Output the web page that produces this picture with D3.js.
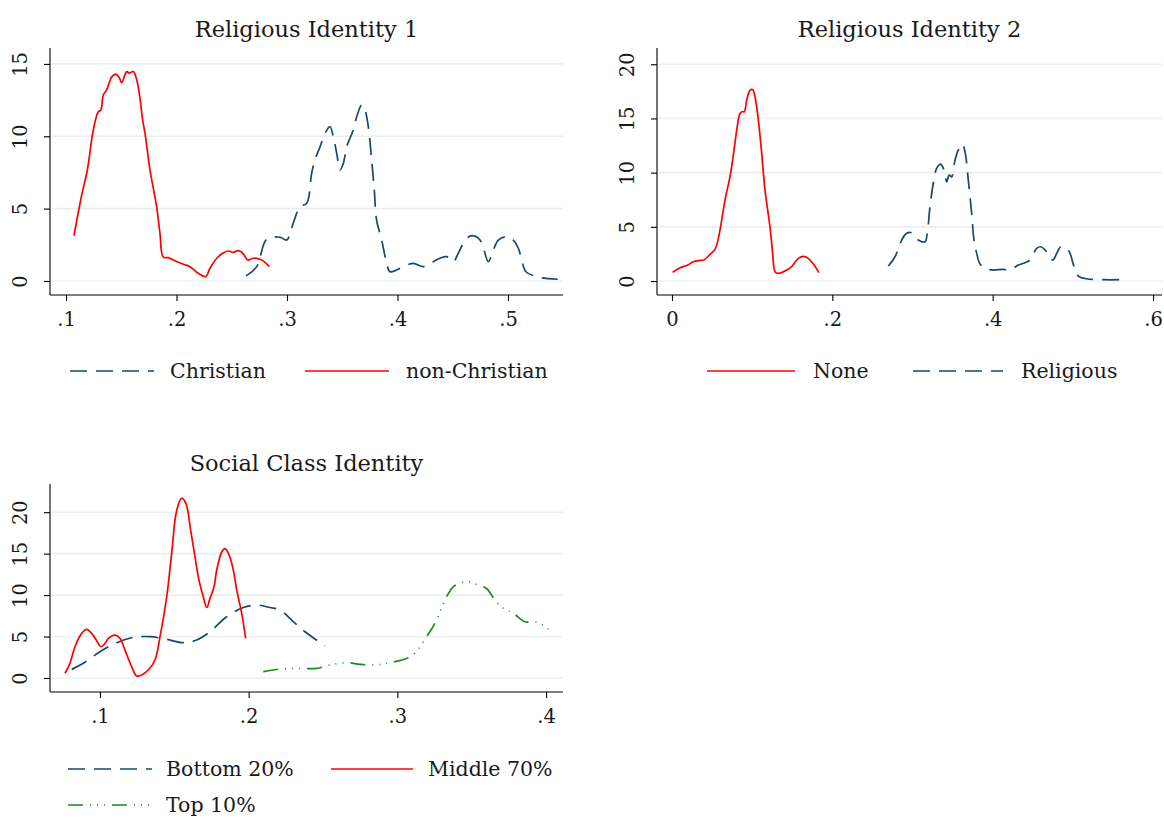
<!DOCTYPE html>
<html>
<head>
<meta charset="utf-8">
<script src="https://cdn.jsdelivr.net/npm/d3@7"></script>
<style>
  html, body { margin: 0; padding: 0; background: #fff; }
  svg { display: block; font-family: "DejaVu Serif", "Liberation Serif", serif; }
</style>
</head>
<body>
<svg id="chart" width="1164" height="819"></svg>
<script>
// Kernel density estimates of identity scores, by group

// Religious Identity 1
const christianX = [0.2629, 0.2726, 0.2816, 0.2937, 0.2997, 0.3057, 0.3118, 0.3178, 0.3223, 0.3253, 0.3299, 0.3344, 0.3389, 0.3419, 0.345, 0.348, 0.351, 0.354, 0.357, 0.36, 0.3631, 0.3676, 0.3706, 0.3736, 0.3766, 0.379, 0.3811, 0.3857, 0.3902, 0.3932, 0.3993, 0.4053, 0.4143, 0.4234, 0.4324, 0.4385, 0.4445, 0.4505, 0.455, 0.4596, 0.4656, 0.4701, 0.4747, 0.4783, 0.4822, 0.4867, 0.4913, 0.4988, 0.5048, 0.5094, 0.5124, 0.5163, 0.526, 0.5365, 0.545];
const christianY = [0.35, 0.99, 2.88, 3.02, 2.83, 4.0, 5.13, 5.37, 7.44, 8.36, 9.28, 10.2, 10.66, 9.97, 8.82, 7.67, 8.13, 9.28, 9.86, 10.43, 11.35, 12.16, 11.8, 10.66, 8.36, 6.29, 4.2, 2.83, 1.22, 0.64, 0.76, 0.99, 1.22, 0.99, 1.33, 1.57, 1.68, 1.33, 1.91, 2.6, 3.1, 3.1, 2.83, 2.14, 1.33, 2.14, 2.83, 3.06, 2.83, 2.26, 1.45, 0.64, 0.3, 0.16, 0.12];
const nonChristianX = [0.1072, 0.1142, 0.1193, 0.1247, 0.1292, 0.1314, 0.1338, 0.1368, 0.1413, 0.1449, 0.148, 0.1504, 0.1549, 0.1573, 0.1609, 0.164, 0.167, 0.1694, 0.1715, 0.176, 0.182, 0.185, 0.188, 0.1926, 0.197, 0.2062, 0.2122, 0.2197, 0.2264, 0.2303, 0.2364, 0.2418, 0.2469, 0.2514, 0.255, 0.2581, 0.2611, 0.2644, 0.2695, 0.2756, 0.2801, 0.284];
const nonChristianY = [3.13, 5.94, 7.67, 10.43, 11.7, 11.8, 12.85, 13.2, 14.1, 14.3, 14.08, 13.7, 14.47, 14.37, 14.47, 13.9, 12.6, 11.1, 10.2, 7.67, 5.13, 3.3, 1.64, 1.61, 1.45, 1.15, 0.99, 0.53, 0.3, 0.88, 1.57, 1.91, 2.07, 1.98, 2.1, 2.03, 1.8, 1.45, 1.57, 1.5, 1.29, 0.99];

// Religious Identity 2
const noneX = [0.0008, 0.01, 0.0191, 0.0266, 0.0349, 0.0399, 0.0474, 0.0536, 0.0578, 0.062, 0.0661, 0.0723, 0.0765, 0.0807, 0.0848, 0.0882, 0.0902, 0.0932, 0.0973, 0.1006, 0.1035, 0.1077, 0.1119, 0.116, 0.1222, 0.1256, 0.1285, 0.1326, 0.1431, 0.1493, 0.1576, 0.1638, 0.17, 0.1763, 0.1834];
const noneY = [0.8, 1.23, 1.45, 1.78, 1.9, 1.94, 2.46, 2.92, 3.93, 5.62, 7.47, 9.61, 11.6, 13.9, 15.45, 15.64, 15.6, 16.7, 17.6, 17.67, 17.0, 14.84, 11.77, 8.39, 5.0, 2.55, 0.86, 0.71, 1.01, 1.32, 2.09, 2.27, 2.09, 1.57, 0.77];
const religiousX = [0.2698, 0.2782, 0.2865, 0.2927, 0.299, 0.3072, 0.3156, 0.3184, 0.3218, 0.3259, 0.3301, 0.3351, 0.3393, 0.3426, 0.3458, 0.3488, 0.353, 0.3571, 0.3621, 0.3655, 0.3696, 0.3738, 0.3767, 0.3801, 0.3842, 0.3904, 0.4008, 0.4133, 0.4216, 0.432, 0.4403, 0.4466, 0.4549, 0.4599, 0.4674, 0.4749, 0.4799, 0.4849, 0.4924, 0.4965, 0.5015, 0.5068, 0.5173, 0.538, 0.558];
const religiousY = [1.38, 2.24, 3.78, 4.4, 4.45, 3.78, 3.62, 4.4, 6.85, 9.0, 10.39, 10.78, 10.23, 9.15, 9.77, 9.61, 11.15, 12.07, 12.63, 11.92, 9.31, 6.24, 3.78, 2.55, 1.57, 1.17, 1.01, 1.08, 1.01, 1.47, 1.69, 1.94, 3.01, 3.16, 2.7, 1.94, 2.55, 3.16, 3.01, 2.55, 1.32, 0.46, 0.21, 0.12, 0.12];

// Social Class Identity
const bottomX = [0.081, 0.0888, 0.1, 0.1112, 0.1224, 0.1336, 0.1449, 0.156, 0.165, 0.174, 0.1852, 0.1964, 0.2054, 0.2143, 0.2211, 0.23, 0.2379, 0.2513];
const bottomY = [1.04, 1.77, 3.17, 4.26, 4.9, 4.98, 4.66, 4.26, 4.58, 5.58, 7.39, 8.5, 8.8, 8.5, 8.2, 6.8, 5.58, 3.86];
const middleX = [0.0765, 0.0798, 0.0832, 0.0877, 0.091, 0.0944, 0.0978, 0.1005, 0.1034, 0.1056, 0.1101, 0.1135, 0.1168, 0.1213, 0.1247, 0.128, 0.1325, 0.137, 0.1404, 0.1449, 0.1482, 0.1516, 0.155, 0.1579, 0.161, 0.1639, 0.1666, 0.1695, 0.1718, 0.174, 0.1767, 0.1785, 0.1819, 0.1841, 0.187, 0.1897, 0.192, 0.1953, 0.198];
const middleY = [0.57, 1.77, 3.77, 5.38, 5.86, 5.38, 4.5, 3.77, 4.18, 4.78, 5.18, 4.78, 3.37, 1.36, 0.24, 0.36, 0.96, 2.17, 4.98, 9.8, 15.0, 20.2, 21.7, 21.0, 17.8, 14.6, 11.8, 9.8, 8.5, 9.6, 11.0, 13.0, 15.2, 15.6, 14.8, 13.0, 10.6, 7.8, 4.78];
const topX = [0.2098, 0.2211, 0.2345, 0.2457, 0.2547, 0.2659, 0.2749, 0.2838, 0.2917, 0.2984, 0.3096, 0.3197, 0.3264, 0.332, 0.3376, 0.3432, 0.3488, 0.3544, 0.36, 0.3656, 0.3712, 0.3779, 0.3858, 0.3914, 0.3959, 0.4015];
const topY = [0.77, 1.08, 1.16, 1.16, 1.57, 1.85, 1.65, 1.57, 1.73, 1.97, 2.65, 4.98, 6.99, 9.4, 11.0, 11.48, 11.6, 11.2, 10.8, 9.4, 8.4, 7.8, 6.78, 6.78, 6.59, 5.86];

// Axis ticks
const xTicks1 = [0.1, 0.2, 0.3, 0.4, 0.5];
const yTicks1 = [0, 5, 10, 15];
const xTicks2 = [0, 0.2, 0.4, 0.6];
const yTicks2 = [0, 5, 10, 15, 20];
const xTicks3 = [0.1, 0.2, 0.3, 0.4];
const yTicks3 = [0, 5, 10, 15, 20];

const NAVY = "#1a476f";
const RED = "#ff0000";
const GREEN = "#1e8b1e";
const GRID = "#eaf0f2";
const INK = "#1a1a1a";
const DASH = "17 9";
const DASH_DOT = "15 7 1 6 1 6 1 7";

const svg = d3.select("#chart");

const fmt = v => v === 0 ? "0" : d3.format(".1f")(v).replace(/^0/, "");

function zip(xs, ys) { return xs.map((x, i) => [x, ys[i]]); }

function panel(cfg) {
  const x = d3.scaleLinear().domain(cfg.xDomain).range([cfg.left, cfg.right]);
  const y = d3.scaleLinear().domain(cfg.yDomain).range([cfg.bottom, cfg.top]);
  const g = svg.append("g");

  // horizontal gridlines
  g.selectAll("line.grid").data(cfg.yTicks).enter().append("line")
    .attr("x1", cfg.left + 2).attr("x2", cfg.right)
    .attr("y1", d => y(d)).attr("y2", d => y(d))
    .attr("stroke", GRID).attr("stroke-width", 1.6);

  // y axis
  const ya = g.append("g").attr("transform", `translate(${cfg.left},0)`)
    .call(d3.axisLeft(y).tickValues(cfg.yTicks).tickSize(6).tickSizeOuter(0).tickFormat(d3.format("d")))
    .attr("font-family", null).attr("font-size", null);
  ya.select(".domain").attr("stroke", "#000").attr("stroke-width", 1.1)
    .attr("d", `M0,${cfg.bottom}V${cfg.top}`);
  ya.selectAll(".tick line").attr("stroke", "#000").attr("stroke-width", 1.1);
  ya.selectAll(".tick text")
    .attr("font-size", 19.5).attr("fill", INK)
    .attr("text-anchor", "middle")
    .attr("transform", "rotate(-90)")
    .attr("x", 0).attr("dy", 0)
    .attr("y", -23);

  // x axis
  const xa = g.append("g").attr("transform", `translate(0,${cfg.bottom})`)
    .call(d3.axisBottom(x).tickValues(cfg.xTicks).tickSize(6).tickSizeOuter(0).tickPadding(10).tickFormat(fmt))
    .attr("font-family", null).attr("font-size", null);
  xa.select(".domain").attr("stroke", "#000").attr("stroke-width", 1.1)
    .attr("d", `M${cfg.left},0H${cfg.right}`);
  xa.selectAll(".tick line").attr("stroke", "#000").attr("stroke-width", 1.1);
  xa.selectAll(".tick text").attr("font-size", 19.5).attr("fill", INK).attr("dy", "0.75em");

  // title
  g.append("text").attr("x", (cfg.left + cfg.right) / 2).attr("y", cfg.titleY)
    .attr("text-anchor", "middle").attr("font-size", 22.5).attr("fill", INK).text(cfg.title);

  // density curves
  const line = d3.line().x(d => x(d[0])).y(d => y(d[1])).curve(d3.curveCatmullRom.alpha(0.5));
  cfg.series.forEach(s => {
    g.append("path").datum(zip(s.xs, s.ys))
      .attr("d", line).attr("fill", "none")
      .attr("stroke", s.color).attr("stroke-width", 1.7)
      .attr("stroke-dasharray", s.dash || null)
      .attr("stroke-linejoin", "round");
  });

  // legend
  cfg.legend.forEach(l => {
    g.append("line").attr("x1", l.x).attr("x2", l.x + l.w).attr("y1", l.y).attr("y2", l.y)
      .attr("stroke", l.color).attr("stroke-width", 1.7).attr("stroke-dasharray", l.dash || null);
    g.append("text").attr("x", l.tx).attr("y", l.y).attr("dy", "0.35em")
      .attr("font-size", 20.5).attr("fill", INK).text(l.label);
  });
}

panel({
  title: "Religious Identity 1", titleY: 37,
  left: 50, right: 563, top: 48, bottom: 295,
  xDomain: [0.0855, 0.5498], yDomain: [-0.97, 16.1],
  xTicks: xTicks1, yTicks: yTicks1,
  series: [
    { xs: christianX, ys: christianY, color: NAVY, dash: DASH },
    { xs: nonChristianX, ys: nonChristianY, color: RED }
  ],
  legend: [
    { x: 70, y: 371, w: 84, tx: 170, color: NAVY, dash: DASH, label: "Christian" },
    { x: 305, y: 371, w: 84, tx: 406, color: RED, label: "non-Christian" }
  ]
});

panel({
  title: "Religious Identity 2", titleY: 37,
  left: 657, right: 1162, top: 48, bottom: 295,
  xDomain: [-0.0187, 0.6112], yDomain: [-1.29, 21.5],
  xTicks: xTicks2, yTicks: yTicks2,
  series: [
    { xs: noneX, ys: noneY, color: RED },
    { xs: religiousX, ys: religiousY, color: NAVY, dash: DASH }
  ],
  legend: [
    { x: 707, y: 371, w: 88, tx: 813, color: RED, label: "None" },
    { x: 913, y: 371, w: 90, tx: 1021, color: NAVY, dash: DASH, label: "Religious" }
  ]
});

panel({
  title: "Social Class Identity", titleY: 471,
  left: 50, right: 563, top: 484, bottom: 692,
  xDomain: [0.0664, 0.4114], yDomain: [-1.69, 23.4],
  xTicks: xTicks3, yTicks: yTicks3,
  series: [
    { xs: bottomX, ys: bottomY, color: NAVY, dash: DASH },
    { xs: middleX, ys: middleY, color: RED },
    { xs: topX, ys: topY, color: GREEN, dash: DASH_DOT }
  ],
  legend: [
    { x: 68, y: 769, w: 84, tx: 166, color: NAVY, dash: DASH, label: "Bottom 20%" },
    { x: 331, y: 769, w: 82, tx: 428, color: RED, label: "Middle 70%" },
    { x: 68, y: 805, w: 84, tx: 166, color: GREEN, dash: DASH_DOT, label: "Top 10%" }
  ]
});
</script>
</body>
</html>
